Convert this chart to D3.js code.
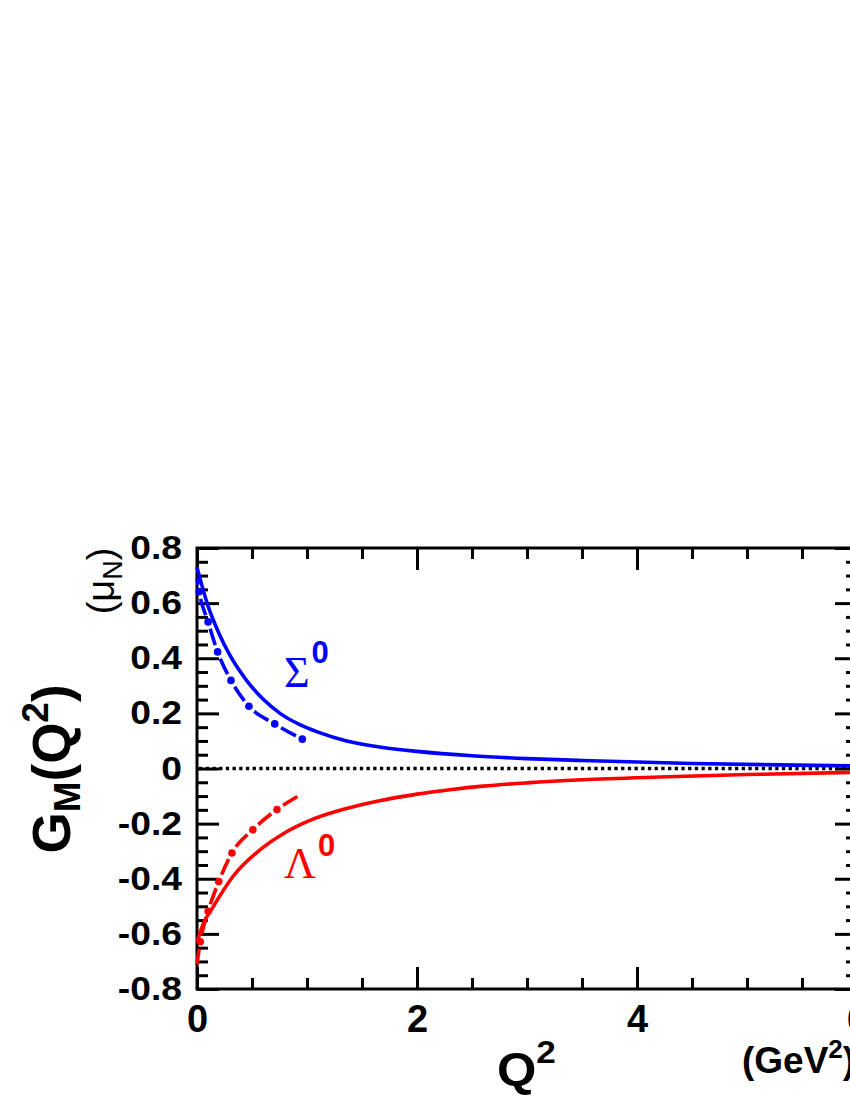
<!DOCTYPE html>
<html lang="en">
<head>
<meta charset="UTF-8">
<title>G_M(Q^2) Sigma0 / Lambda0</title>
<style>
  body { margin: 0; background: #fff; }
  svg { display: block; }
  .tick text { font-family: "Liberation Sans", Arial, sans-serif; font-weight: bold; fill: #000; }
</style>
</head>
<body>
<svg id="chart" width="850" height="1100"></svg>
<script src="https://d3js.org/d3.v7.min.js"></script>
<script>
// curves: [Q^2 (GeV^2), G_M (mu_N)]
const sigmaSolid = [[0,0.73],[0.1,0.59],[0.2,0.49],[0.3,0.41],[0.45,0.32],[0.6,0.252],[0.755,0.2],[0.94,0.158],
  [1.1,0.132],[1.36,0.10],[1.66,0.078],[2.0,0.062],[2.5,0.046],[3.0,0.036],[3.5,0.029],[4.5,0.018],[6,0.009]];
const sigmaDashDot = [[0,0.69],[0.02,0.64],[0.10,0.533],[0.19,0.42],[0.31,0.319],[0.47,0.227],[0.71,0.161],[0.96,0.106]];
const lambdaSolid = [[0,-0.63],[0.05,-0.57],[0.15,-0.50],[0.33,-0.39],[0.57,-0.296],[0.8,-0.233],[1.06,-0.183],
  [1.36,-0.145],[1.66,-0.117],[2.0,-0.093],[2.3,-0.077],[2.6,-0.064],[3.0,-0.052],[3.5,-0.041],[4.2,-0.031],[5,-0.022],[6,-0.014]];
const lambdaDashDot = [[0,-0.71],[0.03,-0.628],[0.10,-0.52],[0.20,-0.408],[0.32,-0.305],[0.51,-0.221],[0.73,-0.148],[0.92,-0.10]];

const xMajor = [0, 2, 4, 6];
const yMajor = [-0.8, -0.6, -0.4, -0.2, 0, 0.2, 0.4, 0.6, 0.8];

const svg = d3.select("#chart");
svg.append("rect").attr("width", 850).attr("height", 1100).attr("fill", "#fff");

// plot frame
const L = 197, R = 857, T = 548, B = 989;
const x = d3.scaleLinear().domain([0, 6]).range([L, R]);
const y = d3.scaleLinear().domain([-0.8, 0.8]).range([B, T]);

const xMinor = d3.range(0, 6.01, 0.5).filter(v => !xMajor.includes(v));
const yMinor = d3.range(-0.8, 0.801, 0.05).map(v => +v.toFixed(2)).filter(v => !yMajor.some(m => Math.abs(m - v) < 1e-6));

function tickStyle(g) {
  g.select(".domain").remove();
  g.selectAll(".tick line").attr("stroke", "#000").attr("stroke-width", 3);
}

// bottom axis with labels
const gxb = svg.append("g").attr("transform", `translate(0,${B})`)
  .call(d3.axisBottom(x).tickValues(xMajor).tickSize(-22).tickPadding(16).tickFormat(d3.format("d")))
  .call(tickStyle);
gxb.selectAll(".tick text").attr("font-size", 38);
svg.append("g").attr("transform", `translate(0,${B})`)
  .call(d3.axisBottom(x).tickValues(xMinor).tickSize(-11).tickFormat(""))
  .call(tickStyle);
// top axis
svg.append("g").attr("transform", `translate(0,${T})`)
  .call(d3.axisTop(x).tickValues(xMajor).tickSize(-22).tickFormat(""))
  .call(tickStyle);
svg.append("g").attr("transform", `translate(0,${T})`)
  .call(d3.axisTop(x).tickValues(xMinor).tickSize(-11).tickFormat(""))
  .call(tickStyle);

// left axis with labels
const gyl = svg.append("g").attr("transform", `translate(${L},0)`)
  .call(d3.axisLeft(y).tickValues(yMajor).tickSize(-22).tickPadding(15)
    .tickFormat(d => d === 0 ? "0" : d.toFixed(1)))
  .call(tickStyle);
gyl.selectAll(".tick text").attr("font-size", 33).attr("x", null)
  .attr("transform", "translate(-15,0) scale(1.13,1)");
svg.append("g").attr("transform", `translate(${L},0)`)
  .call(d3.axisLeft(y).tickValues(yMinor).tickSize(-11).tickFormat(""))
  .call(tickStyle);
// right axis
svg.append("g").attr("transform", `translate(${R},0)`)
  .call(d3.axisRight(y).tickValues(yMajor).tickSize(-22).tickFormat(""))
  .call(tickStyle);
svg.append("g").attr("transform", `translate(${R},0)`)
  .call(d3.axisRight(y).tickValues(yMinor).tickSize(-11).tickFormat(""))
  .call(tickStyle);

svg.append("rect").attr("x", L).attr("y", T).attr("width", R - L).attr("height", B - T)
  .attr("fill", "none").attr("stroke", "#000").attr("stroke-width", 3);

// zero line
svg.append("line").attr("x1", x(0) + 2).attr("x2", x(6)).attr("y1", y(0)).attr("y2", y(0))
  .attr("stroke", "#000").attr("stroke-width", 3.3).attr("stroke-dasharray", "3.3 3.4");

const line = d3.line().x(d => x(d[0])).y(d => y(d[1])).curve(d3.curveMonotoneX);

function solid(data, color) {
  svg.append("path").datum(data).attr("d", line).attr("fill", "none")
    .attr("stroke", color).attr("stroke-width", 3.6);
}

// dash-dot: dashes with round dots in the gaps, period 31.5px
function dashDot(data, color, firstDot) {
  const period = 31.5, dash = 17;
  const p = svg.append("path").datum(data).attr("d", line).attr("fill", "none")
    .attr("stroke", color).attr("stroke-width", 3.6)
    .attr("stroke-dasharray", `${dash} ${period - dash}`)
    .attr("stroke-dashoffset", dash + (period - dash) / 2 - firstDot);
  const node = p.node(), len = node.getTotalLength();
  for (let s = firstDot; s < len; s += period) {
    const pt = node.getPointAtLength(s);
    svg.append("circle").attr("cx", pt.x).attr("cy", pt.y).attr("r", 3.8).attr("fill", color);
  }
}

solid(sigmaSolid, "#0000ff");
dashDot(sigmaDashDot, "#0000ff", 13.6);
solid(lambdaSolid, "#ff0000");
dashDot(lambdaDashDot, "#ff0000", 22.7);

// curve labels
const serif = "'Liberation Serif', 'Times New Roman', serif";
const sans = "'Liberation Sans', Arial, sans-serif";
const sig = svg.append("text").attr("x", 284).attr("y", 687).attr("fill", "#0000ff");
sig.append("tspan").attr("font-family", serif).attr("font-size", 44).text("Σ");
sig.append("tspan").attr("font-family", sans).attr("font-weight", "bold").attr("font-size", 31)
  .attr("dy", -24).attr("dx", 2).text("0");
const lam = svg.append("text").attr("x", 284).attr("y", 878).attr("fill", "#ff0000");
lam.append("tspan").attr("font-family", serif).attr("font-size", 44).text("Λ");
lam.append("tspan").attr("font-family", sans).attr("font-weight", "bold").attr("font-size", 31)
  .attr("dy", -22).attr("dx", 2).text("0");

// x axis title
const xt = svg.append("text").attr("x", 497).attr("y", 1085)
  .attr("font-family", sans).attr("font-weight", "bold").attr("fill", "#000")
  .attr("transform", "translate(497,0) scale(1.1,1) translate(-497,0)");
xt.append("tspan").attr("font-size", 46).text("Q");
xt.append("tspan").attr("font-size", 32).attr("dy", -22).text("2");

const xu = svg.append("text").attr("x", 742).attr("y", 1073)
  .attr("font-family", sans).attr("font-weight", "bold").attr("fill", "#000");
xu.append("tspan").attr("font-size", 37).text("(GeV");
xu.append("tspan").attr("font-size", 26).attr("dy", -15).text("2");
xu.append("tspan").attr("font-size", 37).attr("dy", 15).text(")");

// y axis title
const yt = svg.append("text").attr("transform", "translate(70,769) rotate(-90)")
  .attr("text-anchor", "middle").attr("font-family", sans).attr("font-weight", "bold").attr("fill", "#000");
yt.append("tspan").attr("font-size", 53).text("G");
yt.append("tspan").attr("font-size", 37).attr("dy", 10).text("M");
yt.append("tspan").attr("font-size", 53).attr("dy", -10).text("(Q");
yt.append("tspan").attr("font-size", 37).attr("dy", -22).text("2");
yt.append("tspan").attr("font-size", 53).attr("dy", 22).text(")");

const yu = svg.append("text").attr("transform", "translate(114,581) rotate(-90)")
  .attr("text-anchor", "middle").attr("font-family", sans).attr("fill", "#000");
yu.append("tspan").attr("font-size", 38).text("(μ");
yu.append("tspan").attr("font-size", 27).attr("dy", 8).text("N");
yu.append("tspan").attr("font-size", 38).attr("dy", -8).text(")");
</script>
</body>
</html>
